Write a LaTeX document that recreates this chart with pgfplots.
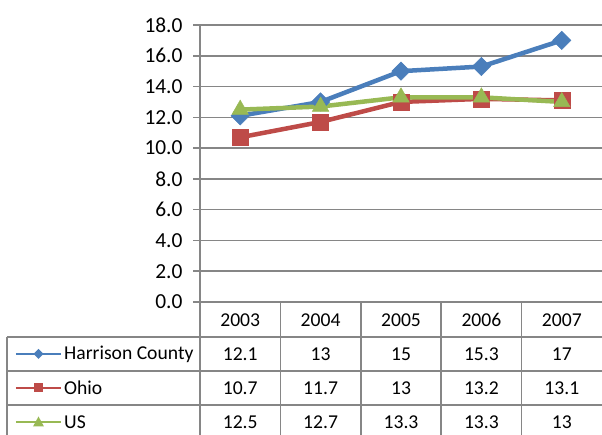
\documentclass[border=0pt]{standalone}
\usepackage{pgfplots}
\pgfplotsset{compat=1.18}
\usepackage{fontspec}
\setmainfont{Carlito}

\definecolor{hcblue}{HTML}{4A7EBB}
\definecolor{ohred}{HTML}{BE4B48}
\definecolor{usgreen}{HTML}{98B954}
\definecolor{gridgray}{HTML}{868686}

\begin{document}
\begin{tikzpicture}
\begin{axis}[
    scale only axis,
    width=402bp, height=277bp,
    xmin=-0.5, xmax=4.5,
    ymin=0, ymax=18,
    ytick={0,2,...,18},
    xtick=\empty,
    axis x line*=bottom,
    axis y line*=left,
    axis line style={gridgray, line width=1.5bp},
    tick align=outside,
    major tick length=7bp,
    tick style={gridgray, line width=1.5bp},
    ymajorgrids,
    grid style={gridgray, line width=1.5bp},
    ticklabel style={font=\fontsize{21.5}{25}\selectfont},
    yticklabel style={xshift=-7bp, /pgf/number format/.cd, fixed, fixed zerofill, precision=1, assume math mode=true},
    clip=false,
]
\addplot[hcblue, line width=4.5bp, mark=square*, mark size=6.5bp, mark options={rotate=45, solid, line width=0.5bp}]
  coordinates {(0,12.1) (1,13) (2,15) (3,15.3) (4,17)};
\addplot[ohred, line width=4.5bp, mark=square*, mark size=8bp, mark options={solid, line width=0.5bp}]
  coordinates {(0,10.7) (1,11.7) (2,13) (3,13.2) (4,13.1)};
\addplot[usgreen, line width=4.5bp, mark=triangle*, mark size=9.5bp, mark options={solid, line width=0.5bp}]
  coordinates {(0,12.5) (1,12.7) (2,13.3) (3,13.3) (4,13)};
\coordinate (O) at (rel axis cs:0,0);
\end{axis}

% data table below the plot area
\begin{scope}[shift={(O)}, x=1bp, y=1bp, font=\fontsize{19.7}{23}\selectfont]
  \draw[gridgray, line width=1.5bp] (-193,-35) -- (402,-35);
  \draw[gridgray, line width=1.5bp] (-193,-69) -- (402,-69);
  \draw[gridgray, line width=1.5bp] (-193,-103) -- (402,-103);
  \draw[gridgray, line width=1.5bp] (-193,-35) -- (-193,-140);
  \foreach \i in {0,...,4} {
    \draw[gridgray, line width=1.5bp] ({80.4*\i},0) -- ({80.4*\i},-140);
  }
  \foreach \yr [count=\i from 0] in {2003,2004,2005,2006,2007} {
    \node at ({40.2+80.4*\i},-18) {\yr};
  }
  \foreach \v [count=\i from 0] in {12.1,13,15,15.3,17} {
    \node at ({40.2+80.4*\i},-52) {\v};
  }
  \foreach \v [count=\i from 0] in {10.7,11.7,13,13.2,13.1} {
    \node at ({40.2+80.4*\i},-86) {\v};
  }
  \foreach \v [count=\i from 0] in {12.5,12.7,13.3,13.3,13} {
    \node at ({40.2+80.4*\i},-120) {\v};
  }
  % legend keys
  \draw[hcblue, line width=1.5bp] (-184,-52) -- (-139,-52);
  \fill[hcblue] (-161.5,-52) ++(0,5) -- ++(5,-5) -- ++(-5,-5) -- ++(-5,5) -- cycle;
  \node[anchor=west, inner sep=0pt] at (-136,-52) {Harrison County};
  \draw[ohred, line width=1.5bp] (-184,-86) -- (-139,-86);
  \fill[ohred] (-166,-90.5) rectangle (-157,-81.5);
  \node[anchor=west, inner sep=0pt] at (-136,-86) {Ohio};
  \draw[usgreen, line width=1.5bp] (-184,-120) -- (-139,-120);
  \fill[usgreen] (-167,-124.5) -- (-156,-124.5) -- (-161.5,-114.5) -- cycle;
  \node[anchor=west, inner sep=0pt] at (-136,-120) {US};
  \pgfresetboundingbox
  \path (-200,-133) rectangle (402,302);
\end{scope}
\end{tikzpicture}
\end{document}
